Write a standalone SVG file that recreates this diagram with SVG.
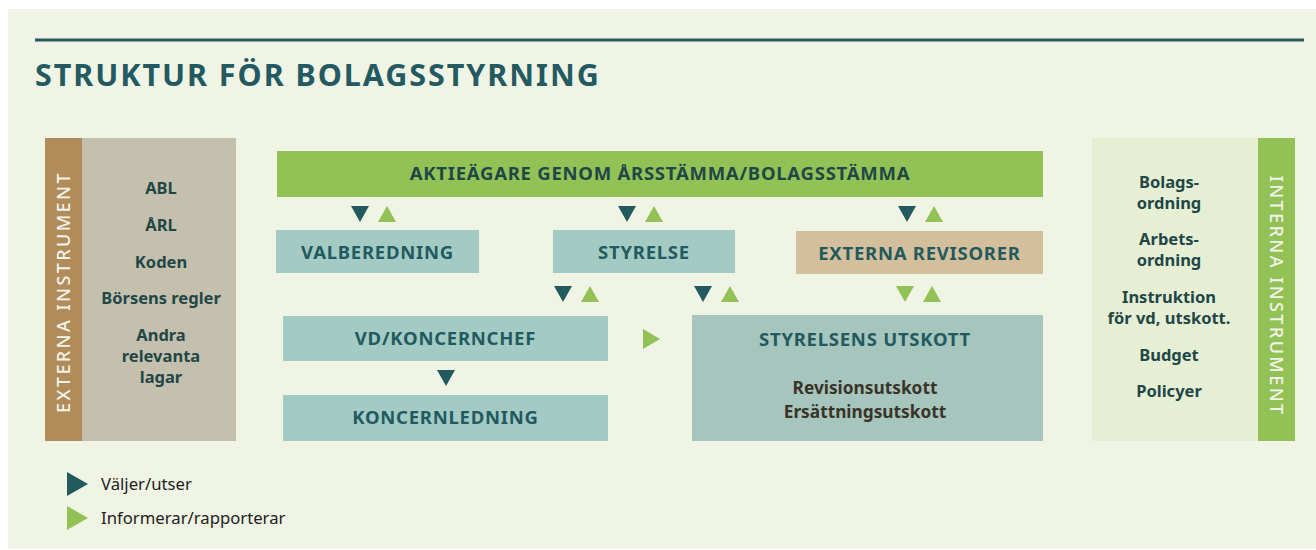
<svg xmlns="http://www.w3.org/2000/svg" width="1316" height="550" viewBox="0 0 1316 550">
<defs>
<style>
.t{font-family:"Noto Sans","Liberation Sans",sans-serif;font-weight:bold;text-anchor:middle}
.lbl{font-size:18.5px;fill:#225a60;letter-spacing:0.75px}
.side{font-size:16.5px;fill:#1f4747}
.vert{font-family:"Noto Sans","Liberation Sans",sans-serif;font-weight:500;font-size:18px;fill:#f3f3ea;text-anchor:middle;letter-spacing:2.4px}
.box{fill:#a3cbc3}
.dk{fill:#225a60}
.lg{fill:#92c155}
</style>
<path id="dn" d="M-9,0 L9,0 L0,16 Z"/>
<path id="up" d="M-9,16 L9,16 L0,0 Z"/>
</defs>
<rect x="0" y="0" width="1316" height="550" fill="#ffffff"/>
<rect x="8" y="9" width="1308" height="540" fill="#f0f4e4"/>
<rect x="35" y="38.5" width="1269" height="3" fill="#235a61"/>
<text x="35" y="86" font-family="'Noto Sans','Liberation Sans',sans-serif" font-weight="bold" font-size="30.5" letter-spacing="1.95" fill="#235a61">STRUKTUR FÖR BOLAGSSTYRNING</text>

<g id="externa">
<rect x="45" y="138" width="37" height="303" fill="#b08c5a"/>
<rect x="82" y="138" width="154" height="303" fill="#c5c0ae"/>
<text class="vert" transform="translate(70,292) rotate(-90)">EXTERNA INSTRUMENT</text>
<text class="t side" x="161" y="194">ABL</text>
<text class="t side" x="161" y="231">ÅRL</text>
<text class="t side" x="161" y="268">Koden</text>
<text class="t side" x="161" y="304">Börsens regler</text>
<text class="t side" x="161" y="341">Andra</text>
<text class="t side" x="161" y="362">relevanta</text>
<text class="t side" x="161" y="383">lagar</text>
</g>

<g id="interna">
<rect x="1092" y="138" width="166" height="303" fill="#e6efd4"/>
<rect x="1258" y="138" width="37" height="303" fill="#92c155"/>
<text class="vert" transform="translate(1270,296) rotate(90)">INTERNA INSTRUMENT</text>
<text class="t side" x="1169" y="188">Bolags-</text>
<text class="t side" x="1169" y="209">ordning</text>
<text class="t side" x="1169" y="245">Arbets-</text>
<text class="t side" x="1169" y="266">ordning</text>
<text class="t side" x="1169" y="303">Instruktion</text>
<text class="t side" x="1169" y="324">för vd, utskott.</text>
<text class="t side" x="1169" y="361">Budget</text>
<text class="t side" x="1169" y="397">Policyer</text>
</g>

<g id="aktieagare">
<rect x="277" y="151" width="766" height="46" fill="#92c155"/>
<text class="t lbl" x="660" y="180" style="fill:#1f4747">AKTIEÄGARE GENOM ÅRSSTÄMMA/BOLAGSSTÄMMA</text>
</g>
<g id="valberedning">
<rect class="box" x="276" y="230" width="203" height="43"/>
<text class="t lbl" x="377.5" y="258.5">VALBEREDNING</text>
</g>
<g id="styrelse">
<rect class="box" x="553" y="230" width="182" height="43"/>
<text class="t lbl" x="644" y="258.5">STYRELSE</text>
</g>
<g id="revisorer">
<rect x="796" y="231" width="247" height="43" fill="#d4bf9c"/>
<text class="t lbl" x="919.5" y="259.5">EXTERNA REVISORER</text>
</g>
<g id="vd">
<rect class="box" x="283" y="316" width="325" height="45"/>
<text class="t lbl" x="445.5" y="345">VD/KONCERNCHEF</text>
</g>
<g id="koncernledning">
<rect class="box" x="283" y="395" width="325" height="46"/>
<text class="t lbl" x="445.5" y="424">KONCERNLEDNING</text>
</g>
<g id="utskott">
<rect x="692" y="315" width="351" height="126" fill="#a5c5bd"/>
<text class="t lbl" x="865" y="346">STYRELSENS UTSKOTT</text>
<text class="t" x="865" y="394" font-size="17.3" fill="#3a3328">Revisionsutskott</text>
<text class="t" x="865" y="418" font-size="17.3" fill="#3a3328">Ersättningsutskott</text>
</g>

<g id="connectors">
<use href="#dn" class="dk" x="360" y="206"/>
<use href="#up" class="lg" x="387" y="206"/>
<use href="#dn" class="dk" x="627" y="206"/>
<use href="#up" class="lg" x="654" y="206"/>
<use href="#dn" class="dk" x="907" y="206"/>
<use href="#up" class="lg" x="934" y="206"/>
<use href="#dn" class="dk" x="563" y="286"/>
<use href="#up" class="lg" x="590" y="286"/>
<use href="#dn" class="dk" x="703" y="286"/>
<use href="#up" class="lg" x="730" y="286"/>
<use href="#dn" class="lg" x="905" y="286"/>
<use href="#up" class="lg" x="932" y="286"/>
<use href="#dn" class="dk" x="446" y="370"/>
<path class="lg" d="M643,329 L660,339 L643,349 Z"/>
</g>

<g id="legend">
<path class="dk" d="M67,472 L88,484 L67,496 Z"/>
<path class="lg" d="M67,506 L88,518 L67,530 Z"/>
<text x="101" y="490" font-family="'Noto Sans','Liberation Sans',sans-serif" font-size="16.7" fill="#222">Väljer/utser</text>
<text x="101" y="524" font-family="'Noto Sans','Liberation Sans',sans-serif" font-size="16.7" fill="#222">Informerar/rapporterar</text>
</g>
</svg>
